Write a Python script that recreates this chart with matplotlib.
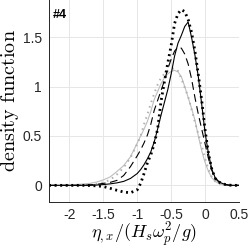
import matplotlib

matplotlib.use("Agg")
import matplotlib.pyplot as plt  # noqa: E402

plt.rcParams["axes.unicode_minus"] = False
plt.rcParams["mathtext.fontset"] = "cm"
plt.rcParams["font.family"] = ["Liberation Sans", "DejaVu Sans"]

# shared abscissa (eta_x / (Hs wp^2 / g))
eta = [-2.3, -2.2, -2.1, -2.0, -1.9, -1.8, -1.7, -1.6, -1.5, -1.4, -1.3, -1.2, -1.1,
       -1.0, -0.95, -0.9, -0.85, -0.8, -0.75, -0.7, -0.65, -0.6, -0.55, -0.5, -0.45,
       -0.4, -0.35, -0.3, -0.25, -0.2, -0.15, -0.1, -0.05, 0.0, 0.05, 0.1, 0.15, 0.2,
       0.25, 0.3, 0.35, 0.4, 0.45, 0.5]

pdf_gray_solid = [0.0, 0.002, 0.003, 0.004, 0.008, 0.013, 0.02, 0.033, 0.055, 0.085, 0.14,
                  0.2, 0.29, 0.43, 0.5, 0.57, 0.65, 0.75, 0.87, 0.95, 1.03, 1.09, 1.13,
                  1.155, 1.165, 1.15, 1.1, 1.0, 0.89, 0.78, 0.66, 0.5, 0.35, 0.23, 0.14,
                  0.075, 0.04, 0.02, 0.01, 0.004, 0.0, 0.0, 0.0, 0.0]
pdf_gray_dot = [0.0, 0.0, 0.0, 0.0, 0.0, 0.0, 0.005, 0.015, 0.03, 0.055, 0.11, 0.18, 0.28,
                0.42, 0.5, 0.62, 0.72, 0.83, 0.93, 1.02, 1.09, 1.13, 1.16, 1.18, 1.185,
                1.16, 1.08, 0.99, 0.9, 0.77, 0.64, 0.52, 0.4, 0.27, 0.16, 0.08, 0.04,
                0.02, 0.01, 0.004, 0.0, 0.0, 0.0, 0.0]
pdf_black_dash = [0.0, 0.0, 0.0, 0.0, 0.0, 0.0, 0.005, 0.01, 0.02, 0.03, 0.05, 0.1, 0.19,
                  0.3, 0.36, 0.43, 0.51, 0.62, 0.76, 0.86, 0.96, 1.06, 1.18, 1.28, 1.36,
                  1.4, 1.39, 1.33, 1.23, 1.08, 0.89, 0.72, 0.57, 0.42, 0.27, 0.15, 0.07,
                  0.035, 0.015, 0.006, 0.0, 0.0, 0.0, 0.0]
pdf_black_solid = [0.0, 0.0, 0.0, 0.0, 0.0, 0.0, 0.0, 0.003, 0.008, 0.015, 0.025, 0.04,
                   0.07, 0.12, 0.16, 0.21, 0.27, 0.34, 0.44, 0.57, 0.71, 0.84, 0.97, 1.13,
                   1.31, 1.44, 1.52, 1.61, 1.655, 1.5, 1.32, 1.1, 0.82, 0.53, 0.32, 0.16,
                   0.075, 0.04, 0.02, 0.01, 0.004, 0.0, 0.0, 0.0]
pdf_black_dot = [0.0, 0.0, 0.0, 0.0, 0.0, 0.0, -0.002, -0.005, -0.012, -0.03, -0.05, -0.068,
                 -0.075, -0.045, 0.02, 0.12, 0.23, 0.31, 0.42, 0.57, 0.85, 1.05, 1.24, 1.42,
                 1.64, 1.74, 1.78, 1.76, 1.68, 1.55, 1.36, 1.12, 0.86, 0.56, 0.32, 0.16,
                 0.07, 0.035, 0.018, 0.008, 0.003, 0.0, 0.0, 0.0]

x_ticks = [-2, -1.5, -1, -0.5, 0, 0.5]
x_ticklabels = ["-2", "-1.5", "-1", "-0.5", "0", "0.5"]
y_ticks = [0, 0.5, 1, 1.5]
y_ticklabels = ["0", "0.5", "1", "1.5"]

fig = plt.figure(figsize=(2.49, 2.48), dpi=100)
ax = fig.add_axes([0.197, 0.185, 0.763, 0.815])

ax.plot(eta, pdf_gray_solid, color="#bdbdbd", lw=0.8)
ax.plot(eta, pdf_gray_dot, color="#b0b0b0", lw=1.4, ls=(0, (0.8, 2.2)))
ax.plot(eta, pdf_black_dash, color="black", lw=0.8, ls=(0, (7, 4)))
ax.plot(eta, pdf_black_solid, color="black", lw=0.8)
ax.plot(eta, pdf_black_dot, color="black", lw=2.0, ls=(0, (0.7, 1.3)))

ax.set_xlim(-2.3, 0.5)
ax.set_ylim(-0.17, 1.878)
ax.set_xticks(x_ticks)
ax.set_xticklabels(x_ticklabels)
ax.set_yticks(y_ticks)
ax.set_yticklabels(y_ticklabels)
ax.tick_params(labelsize=10, colors="#262626", direction="in", length=0, pad=5)
ax.tick_params(axis="x", pad=4)
ax.grid(True, color="#e6e6e6", lw=0.7)
ax.set_axisbelow(True)
for s in ("top", "right"):
    ax.spines[s].set_visible(False)
for s in ("left", "bottom"):
    ax.spines[s].set_color("#262626")
    ax.spines[s].set_linewidth(0.7)

ax.set_ylabel(r"$\mathrm{density\ function}$", fontsize=14.5, labelpad=1)
ax.set_xlabel(r"$\eta_{,x}/(H_s\omega_p^2/g)$", fontsize=13, labelpad=-1)
ax.text(0.02, 0.955, "#4", transform=ax.transAxes, fontsize=9, fontweight="bold",
        va="top", ha="left")

fig.savefig("out.png", dpi=100)
